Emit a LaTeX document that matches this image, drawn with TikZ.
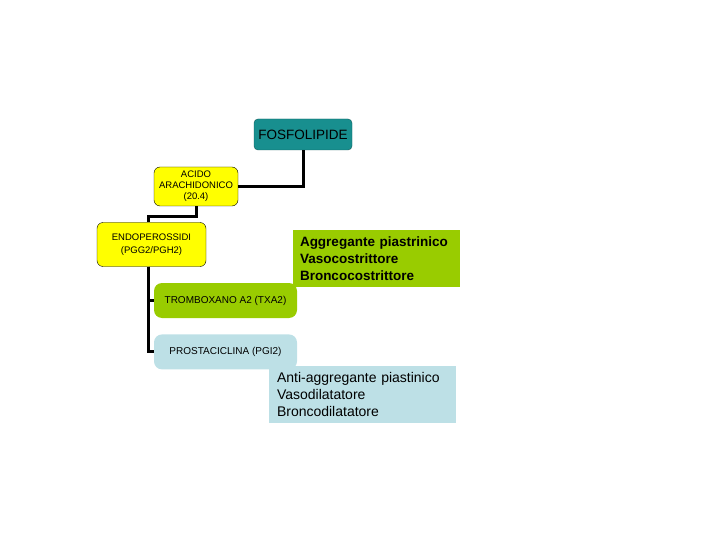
\documentclass[tikz,border=0pt]{standalone}
\usepackage{fontspec}
\setmainfont{Liberation Sans}
\usetikzlibrary{positioning}

\definecolor{fosfofill}{RGB}{24,143,143}
\definecolor{fosfoline}{RGB}{14,90,90}
\definecolor{acidoyellow}{RGB}{255,255,0}
\definecolor{txagreen}{RGB}{153,204,0}
\definecolor{pgiblue}{RGB}{189,224,230}

\begin{document}
\begin{tikzpicture}[x=1pt,y=-1pt,
    every node/.style={align=center,inner sep=0pt},
    lipid/.style={rectangle,rounded corners=4pt,draw=fosfoline,fill=fosfofill,minimum width=98pt,minimum height=31pt,font=\fontsize{13.5}{16}\selectfont},
    acid/.style={rectangle,rounded corners=6pt,draw=black,fill=acidoyellow,font=\fontsize{9.5}{11}\selectfont},
    product/.style={rectangle,rounded corners=8pt,minimum width=143pt,minimum height=35pt,font=\fontsize{10}{12}\selectfont},
    effect/.style={rectangle,align=left,minimum height=57pt},
    link/.style={line width=3pt,line join=miter}
]
\useasboundingbox (0,0) rectangle (720,540);

% Precursori
\node[lipid] (fosfo) at (303,134.5) {FOSFOLIPIDE};
\node[acid,minimum width=84pt,minimum height=39pt] (acido) at (196,186.5) {ACIDO\\ARACHIDONICO\\(20.4)};
\node[acid,minimum width=109pt,minimum height=44pt,font=\fontsize{9.5}{13}\selectfont] (endo) at (151.5,244.5) {ENDOPEROSSIDI\\(PGG2/PGH2)};

% Prodotti
\node[product,fill=txagreen] (tromb) at (225.5,300.5) {TROMBOXANO A2 (TXA2)};
\node[product,fill=pgiblue,below=16pt of tromb] (prosta) {PROSTACICLINA (PGI2)};

% Effetti
\node[effect,fill=txagreen,inner xsep=7pt,text width=153pt,font=\bfseries\fontsize{13.5}{17}\selectfont] (aggreg) at (376.5,258.5) {Aggregante piastrinico\\Vasocostrittore\\Broncocostrittore};
\node[effect,fill=pgiblue,inner xsep=8pt,text width=171pt,font=\fontsize{14}{17}\selectfont] (antiag) at (362.5,394.5) {Anti-aggregante piastinico\\Vasodilatatore\\Broncodilatatore};

% Connessioni
\draw[link] (fosfo.south) |- (acido.east);
\draw[link] (acido.south) -- ++(0,10) -| ([xshift=-3.5pt]endo.north);
\draw[link] ([xshift=-3.5pt]endo.south) |- (tromb.west);
\draw[link] ([xshift=-3.5pt]endo.south) |- (prosta.west);

\end{tikzpicture}
\end{document}
